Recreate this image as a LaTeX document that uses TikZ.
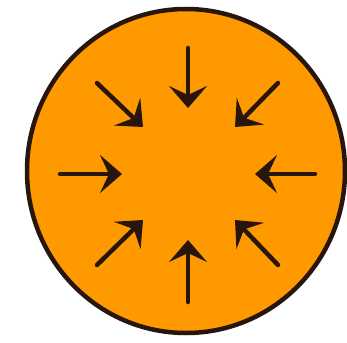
\documentclass[tikz,border=0pt]{standalone}
\usetikzlibrary{arrows.meta}
\definecolor{fillorange}{RGB}{255,153,0}
\definecolor{darkline}{RGB}{40,22,12}
\tikzset{
  disc/.style={draw=darkline, line width=4.5pt, fill=fillorange},
  inarrow/.style={draw=darkline, line width=4.5pt, line cap=round, -{Stealth[length=22pt,width=38pt,inset=9pt]}}
}
\begin{document}
\begin{tikzpicture}[x=1pt,y=-1pt]
\useasboundingbox (0,0) rectangle (347,342);
\coordinate (c) at (186,171);
\path[disc] (c) ellipse [x radius=159, y radius=162];
% tails and tips
\coordinate (tT) at (188,48);  \coordinate (hT) at (188,108);
\coordinate (tB) at (188,302); \coordinate (hB) at (188,240);
\coordinate (tL) at (60,174);  \coordinate (hL) at (122,174);
\coordinate (tR) at (315,174); \coordinate (hR) at (255,174);
\coordinate (tTL) at (97,83);  \coordinate (hTL) at (143,127);
\coordinate (tTR) at (278,83); \coordinate (hTR) at (235,127);
\coordinate (tBL) at (97,265); \coordinate (hBL) at (143,220);
\coordinate (tBR) at (278,265);\coordinate (hBR) at (235,220);
\foreach \a in {T,B,L,R,TL,TR,BL,BR}{
  \draw[inarrow] (t\a) -- (h\a);
}
\end{tikzpicture}
\end{document}
